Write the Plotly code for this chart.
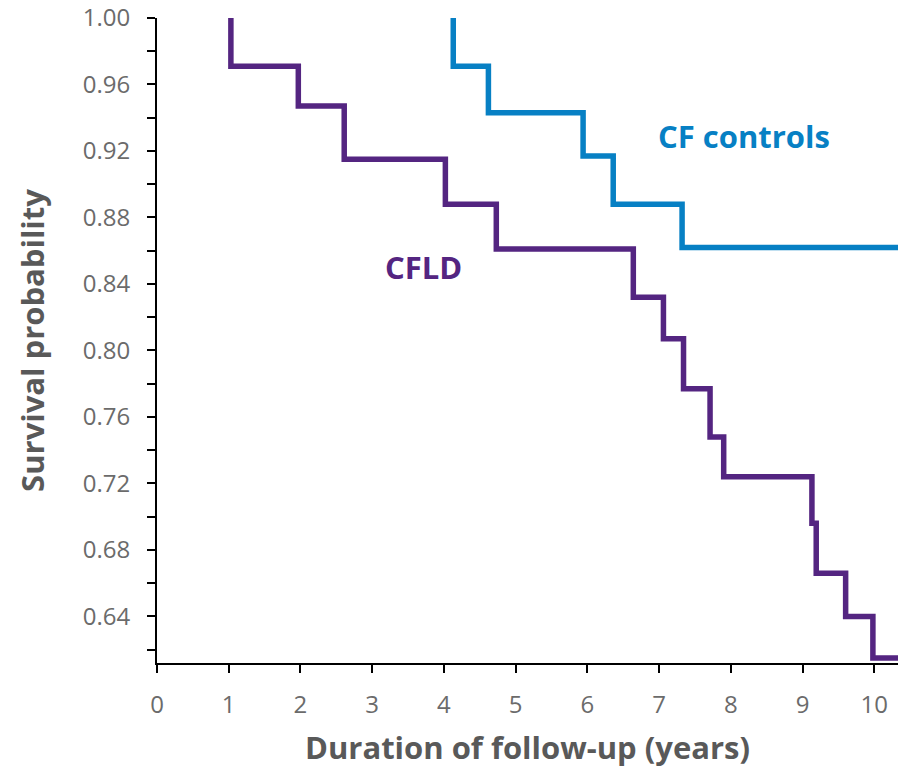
import plotly.graph_objects as go

# CFLD group: event times (years) and survival after each event
cfld_times = [1.03, 1.97, 2.61, 4.02, 4.73, 6.64, 7.06, 7.34, 7.71, 7.90, 9.13, 9.19, 9.60, 9.98]
cfld_surv = [0.971, 0.947, 0.915, 0.888, 0.861, 0.832, 0.807, 0.777, 0.748, 0.724, 0.696, 0.666, 0.640, 0.615]

# CF controls: event times (years) and survival after each event
ctrl_times = [4.13, 4.62, 5.94, 6.36, 7.32]
ctrl_surv = [0.971, 0.943, 0.917, 0.888, 0.862]

follow_up_end = 10.33
x_ticks = list(range(0, 11))
y_ticks = [0.64, 0.68, 0.72, 0.76, 0.80, 0.84, 0.88, 0.92, 0.96, 1.00]
y_minor = [0.62, 0.66, 0.70, 0.74, 0.78, 0.82, 0.86, 0.90, 0.94, 0.98]

def km_xy(times, surv, end):
    xs = [times[0]] + times + [end]
    ys = [1.0] + surv + [surv[-1]]
    return xs, ys

PURPLE = "#542581"
BLUE = "#0780C4"

fig = go.Figure()
x1, y1 = km_xy(cfld_times, cfld_surv, follow_up_end)
x2, y2 = km_xy(ctrl_times, ctrl_surv, follow_up_end)
fig.add_trace(go.Scatter(x=x1, y=y1, mode="lines", line=dict(color=PURPLE, width=5.5, shape="hv"),
                         name="CFLD", cliponaxis=False))
fig.add_trace(go.Scatter(x=x2, y=y2, mode="lines", line=dict(color=BLUE, width=5.5, shape="hv"),
                         name="CF controls", cliponaxis=False))

fig.add_annotation(x=8.18, y=0.929, text="<b>CF controls</b>", showarrow=False,
                   font=dict(family="Open Sans", size=31, color=BLUE))
fig.add_annotation(x=3.71, y=0.850, text="<b>CFLD</b>", showarrow=False,
                   font=dict(family="Open Sans", size=31, color=PURPLE))

fig.update_layout(
    width=898, height=768,
    margin=dict(l=157, r=0, t=18, b=105),
    plot_bgcolor="white", paper_bgcolor="white",
    showlegend=False,
    font=dict(family="Open Sans", color="#6b6b6b"),
)
fig.update_xaxes(
    range=[0, follow_up_end], tickvals=x_ticks, ticktext=[str(v) for v in x_ticks],
    showgrid=False, zeroline=False, showline=True, linecolor="black", linewidth=2,
    ticks="outside", ticklen=8, tickwidth=2, tickcolor="black",
    ticklabelstandoff=11,
    tickfont=dict(size=24, color="#6b6b6b"),
    title=dict(text="<b>Duration of follow-up (years)</b>", standoff=20,
               font=dict(size=31, color="#595959")),
)
fig.update_yaxes(
    range=[0.612, 1.0], tickvals=y_ticks, ticktext=[f"{v:.2f}" for v in y_ticks],
    showgrid=False, zeroline=False, showline=True, linecolor="black", linewidth=2,
    ticks="outside", ticklen=8, tickwidth=2, tickcolor="black",
    ticklabelstandoff=12,
    minor=dict(tickvals=y_minor,
               ticks="outside", ticklen=8, tickwidth=2, tickcolor="black", showgrid=False),
    tickfont=dict(size=24, color="#6b6b6b"),
    title=dict(text="<b>Survival probability</b>", standoff=29,
               font=dict(size=31, color="#595959")),
)

fig.write_html("out.html", config={"displayModeBar": False},
               post_script="document.body.style.margin='0';document.body.style.overflow='hidden';")
